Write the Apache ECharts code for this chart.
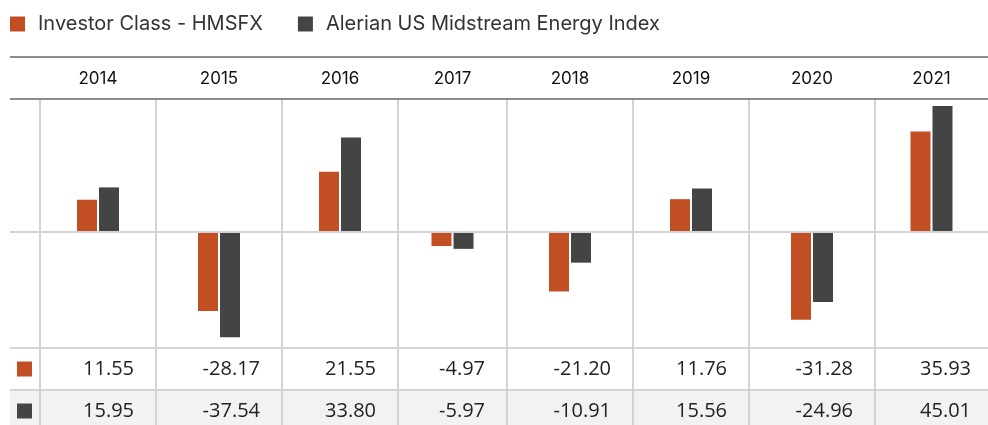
<!DOCTYPE html>
<html>
<head>
<meta charset="utf-8">
<script src="https://cdn.jsdelivr.net/npm/echarts@6/dist/echarts.min.js"></script>
<style>
html,body{margin:0;padding:0;background:#fff;}
#chart{width:988px;height:425px;}
</style>
</head>
<body>
<div id="chart"></div>
<script>
// ---- data ----
const years = ['2014', '2015', '2016', '2017', '2018', '2019', '2020', '2021'];
const seriesNames = ['Investor Class - HMSFX', 'Alerian US Midstream Energy Index'];
const hmsfx = [11.55, -28.17, 21.55, -4.97, -21.20, 11.76, -31.28, 35.93];
const alerian = [15.95, -37.54, 33.80, -5.97, -10.91, 15.56, -24.96, 45.01];

// ---- layout / style ----
const colors = ['#C24F24', '#444444'];
const colEdges = [40, 156, 282, 398, 507, 633, 749, 875, 993];
const plotTop = 99, plotBottom = 347;
const yMin = -41, yMax = 47.5;
const lightLine = '#d3d3d3', darkLine = '#8c8c8c';
const headFont = 'Inter, "Noto Sans", sans-serif';
const tableFont = '"Open Sans", "Noto Sans", sans-serif';

const chart = echarts.init(document.getElementById('chart'), null, {renderer: 'canvas'});

const grids = [], xAxes = [], yAxes = [], series = [];
const allValues = [hmsfx, alerian];
years.forEach((yr, i) => {
  grids.push({left: colEdges[i], width: colEdges[i + 1] - colEdges[i], top: plotTop, height: plotBottom - plotTop, containLabel: false});
  xAxes.push({
    gridIndex: i, type: 'category', data: [yr], position: 'top',
    axisLine: {show: false}, axisTick: {show: false}, splitLine: {show: false},
    axisLabel: {fontFamily: headFont, fontSize: 17, color: '#111', margin: 12}
  });
  yAxes.push({gridIndex: i, type: 'value', min: yMin, max: yMax, show: false, splitLine: {show: false}});
  allValues.forEach((vals, s) => {
    series.push({
      name: seriesNames[s], type: 'bar', xAxisIndex: i, yAxisIndex: i,
      data: [vals[i]], barWidth: 20, barGap: '10%',
      itemStyle: {color: colors[s]}, silent: true, animation: false
    });
  });
});

chart.setOption({
  animation: false,
  color: colors,
  legend: {
    data: seriesNames, left: 10, top: 14, padding: 0, itemWidth: 15, itemHeight: 15, itemGap: 35,
    icon: 'rect',
    textStyle: {fontFamily: headFont, fontSize: 20, color: '#333', padding: [0, 0, 0, 8]}
  },
  grid: grids, xAxis: xAxes, yAxis: yAxes, series: series
});

// ---- table and rules drawn from the data arrays ----
const y0 = chart.convertToPixel({yAxisIndex: 0}, 0);
const row1Top = plotBottom, row2Top = 390, tableBottom = 425;
const g = [];
// row 2 background
g.push({type: 'rect', shape: {x: 10, y: row2Top, width: 980, height: tableBottom - row2Top}, style: {fill: '#f2f2f2'}, z: 1});
// vertical separators
colEdges.slice(0, -1).forEach(x => {
  g.push({type: 'line', shape: {x1: x, y1: plotTop, x2: x, y2: tableBottom}, style: {stroke: lightLine, lineWidth: 2}, z: 2});
});
// horizontal rules
[y0, row1Top + 1, row2Top].forEach(y => {
  g.push({type: 'line', shape: {x1: 10, y1: y, x2: 988, y2: y}, style: {stroke: lightLine, lineWidth: 2}, z: 50});
});
[57, plotTop].forEach(y => {
  g.push({type: 'line', shape: {x1: 10, y1: y, x2: 988, y2: y}, style: {stroke: darkLine, lineWidth: 2}, z: 60});
});
// table rows
const rowCenters = [369, 411];
allValues.forEach((vals, s) => {
  g.push({type: 'rect', shape: {x: 17, y: rowCenters[s] - 7.5, width: 15, height: 15}, style: {fill: colors[s]}, z: 10});
  vals.forEach((v, i) => {
    g.push({
      type: 'text', x: colEdges[i + 1] - 22, y: rowCenters[s], z: 10,
      style: {text: v.toFixed(2), fontFamily: tableFont, fontSize: 20, fill: '#222', align: 'right', verticalAlign: 'middle'}
    });
  });
});
chart.setOption({graphic: {elements: g}});
</script>
</body>
</html>
